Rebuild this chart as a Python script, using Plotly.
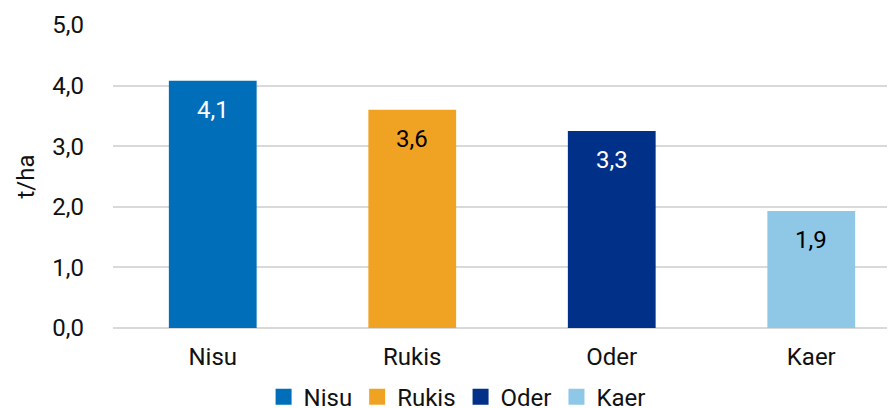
import plotly.graph_objects as go

categories = ["Nisu", "Rukis", "Oder", "Kaer"]
values = [4.08, 3.60, 3.25, 1.93]
labels = ["4,1", "3,6", "3,3", "1,9"]
colors = ["#006EB8", "#F0A323", "#003087", "#8FC7E6"]
label_colors = ["white", "black", "white", "black"]
y_ticks = [0, 1, 2, 3, 4, 5]
y_tick_text = ["0,0", "1,0", "2,0", "3,0", "4,0", "5,0"]

FONT = "Roboto"
FS = 24
PLOT_W = 782

fig = go.Figure()
for cat, val, col in zip(categories, values, colors):
    fig.add_trace(go.Bar(
        x=[cat], y=[val], name=cat, marker=dict(color=col, line=dict(width=0)),
        width=0.44, hoverinfo="skip", showlegend=False,
    ))
# legend entries with larger square symbols
for cat, col in zip(categories, colors):
    fig.add_trace(go.Scatter(
        x=[None], y=[None], name=cat, mode="markers",
        marker=dict(symbol="square", size=17, color=col), hoverinfo="skip",
    ))

for cat, val, lab, lc in zip(categories, values, labels, label_colors):
    fig.add_annotation(
        x=cat, y=val, text=lab, showarrow=False, yshift=-29, yanchor="middle",
        font=dict(family=FONT, size=FS, color=lc),
    )

fig.add_annotation(
    xref="paper", yref="paper", x=(25 - 113) / PLOT_W, y=0.5, text="t/ha",
    textangle=-90, showarrow=False, xanchor="center", yanchor="middle",
    font=dict(family=FONT, size=FS, color="#111111"),
)

fig.update_layout(
    width=887, height=400,
    margin=dict(l=105, r=0, t=17, b=80, autoexpand=False),
    paper_bgcolor="white", plot_bgcolor="white",
    barmode="overlay",
    separators=", ",
    font=dict(family=FONT, size=FS, color="#111111"),
    showlegend=True,
    legend=dict(
        orientation="h", x=0.44, xanchor="center", y=-0.228, yanchor="middle",
        font=dict(family=FONT, size=FS, color="#111111"),
        itemwidth=30, tracegroupgap=0, itemsizing="trace",
    ),
    xaxis=dict(
        range=[-0.5, -0.5 + PLOT_W / 199.5], showgrid=False, zeroline=False,
        showline=False, ticks="", tickfont=dict(family=FONT, size=FS, color="#111111"),
        ticklabelstandoff=12, automargin=False,
    ),
    yaxis=dict(
        range=[0, 5], tickvals=y_ticks, ticktext=y_tick_text,
        showgrid=True, gridcolor="#D9D9D9", gridwidth=2,
        zeroline=True, zerolinecolor="#D9D9D9", zerolinewidth=2,
        showline=False, ticks="",
        tickfont=dict(family=FONT, size=FS, color="#111111"),
        ticklabelstandoff=28, automargin=False,
    ),
)

fig.write_html("out.html")
